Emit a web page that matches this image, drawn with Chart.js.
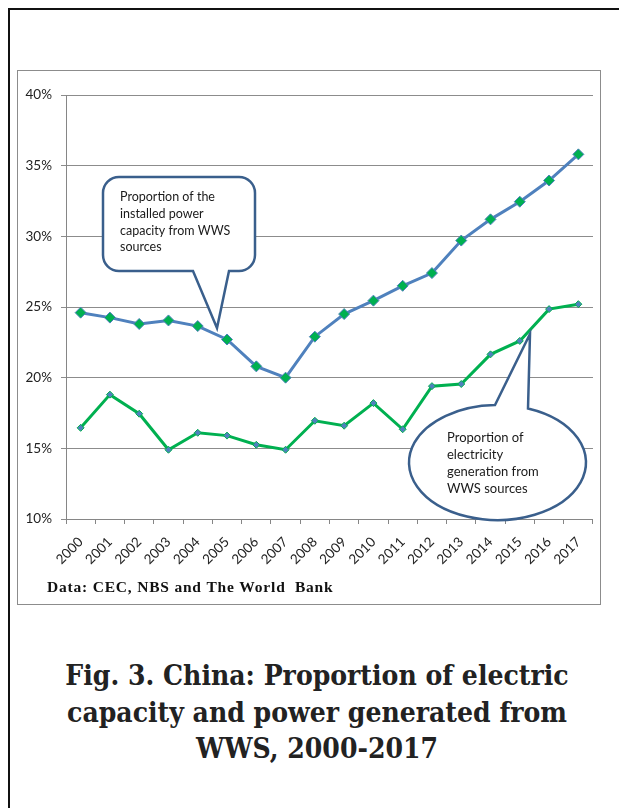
<!DOCTYPE html>
<html>
<head>
<meta charset="utf-8">
<script src="https://cdn.jsdelivr.net/npm/chart.js@4.4.1/dist/chart.umd.min.js"></script>
<style>
  html, body { margin: 0; padding: 0; background: #fff; }
  body { width: 619px; height: 808px; position: relative; overflow: hidden; }
  #frame { position: absolute; left: 8px; top: 8px; right: -10px; bottom: -10px; border-top: 2px solid #111; border-left: 2px solid #111; }
  #box { position: absolute; left: 17px; top: 70px; width: 582px; height: 533px; border: 1.5px solid #8c8c8c; }
  #wrap { position: absolute; left: 18px; top: 71px; width: 582px; height: 533px; }
  #title { position: absolute; left: 0; width: 634px; top: 658px; text-align: center; color: #222;
           font-family: "DejaVu Serif", serif; font-weight: bold; font-stretch: condensed; font-size: 28px; line-height: 36.5px; }
</style>
</head>
<body>
<div id="frame"></div>
<div id="box"></div>
<div id="wrap"><canvas id="chart"></canvas></div>
<div id="title">Fig. 3. China: Proportion of electric<br>capacity and power generated from<br>WWS, 2000-2017</div>
<script>
// Shares of WWS (water, wind, solar) in China's power system, in %
const years = ["2000", "2001", "2002", "2003", "2004", "2005", "2006", "2007", "2008",
               "2009", "2010", "2011", "2012", "2013", "2014", "2015", "2016", "2017"];
const capacityShare = [24.6, 24.25, 23.8, 24.05, 23.65, 22.7, 20.8, 20.0, 22.9,
                       24.5, 25.45, 26.5, 27.4, 29.7, 31.2, 32.45, 33.95, 35.8];
const generationShare = [16.45, 18.8, 17.45, 14.9, 16.1, 15.9, 15.25, 14.9, 16.95,
                         16.6, 18.2, 16.35, 19.4, 19.55, 21.65, 22.6, 24.85, 25.2];
const yMin = 10, yMax = 40, yStep = 5;

const capacityNote = ["Proportion of the", "installed power", "capacity from WWS", "sources"];
const generationNote = ["Proportion of", "electricity", "generation from", "WWS sources"];
const sourceNote = "Data: CEC, NBS and The World  Bank";

const $ = (id) => document.getElementById(id);
const calloutBlue = "#3A5F8C";

function roundRectCallout(ctx, x, y, w, h, r, baseL, baseR, tip) {
  ctx.beginPath();
  ctx.moveTo(x + r, y);
  ctx.lineTo(x + w - r, y);
  ctx.arcTo(x + w, y, x + w, y + r, r);
  ctx.lineTo(x + w, y + h - r);
  ctx.arcTo(x + w, y + h, x + w - r, y + h, r);
  ctx.lineTo(baseR, y + h);
  ctx.lineTo(tip.x, tip.y);
  ctx.lineTo(baseL, y + h);
  ctx.lineTo(x + r, y + h);
  ctx.arcTo(x, y + h, x, y + h - r, r);
  ctx.lineTo(x, y + r);
  ctx.arcTo(x, y, x + r, y, r);
  ctx.closePath();
}

function ellipseCallout(ctx, cx, cy, rx, ry, baseL, baseR, tip) {
  const aR = -Math.acos((baseR - cx) / rx);
  const aL = 2 * Math.PI - Math.acos((baseL - cx) / rx);
  ctx.beginPath();
  ctx.ellipse(cx, cy, rx, ry, 0, aR, aL, false);
  ctx.lineTo(tip.x, tip.y);
  ctx.closePath();
}

const notesPlugin = {
  id: "notes",
  afterDatasetsDraw(chart) {
    const ctx = chart.ctx;
    ctx.save();
    ctx.lineWidth = 2.5;
    ctx.strokeStyle = calloutBlue;
    ctx.fillStyle = "#fff";
    ctx.lineJoin = "miter";

    roundRectCallout(ctx, 85, 106, 152, 94, 16, 175, 211, { x: 199, y: 257 });
    ctx.fill(); ctx.stroke();

    ellipseCallout(ctx, 479.5, 391.5, 88.5, 57.5, 477, 510, { x: 512, y: 263 });
    ctx.fill(); ctx.stroke();

    ctx.fillStyle = "#1a1a1a";
    ctx.font = "12.5px Lato, sans-serif";
    ctx.textBaseline = "middle";
    ctx.textAlign = "left";
    capacityNote.forEach((t, i) => ctx.fillText(t, 102, 126 + i * 16.8));
    ctx.font = "13px Lato, sans-serif";
    generationNote.forEach((t, i) => ctx.fillText(t, 429, 367 + i * 16.8));

    ctx.font = "bold 15.5px 'Liberation Serif', serif";
    ctx.letterSpacing = "0.8px";
    ctx.textBaseline = "alphabetic";
    ctx.fillStyle = "#111";
    ctx.fillText(sourceNote, 29, 521);
    ctx.restore();
  }
};

const tickFont = { family: "Lato, sans-serif", size: 13.5 };

new Chart($("chart"), {
  type: "line",
  data: {
    labels: years,
    datasets: [
      {
        label: "Installed capacity from WWS",
        data: capacityShare,
        borderColor: "#4F81BD",
        borderWidth: 3,
        pointStyle: "rectRot",
        pointRadius: 5.5,
        pointBorderWidth: 1,
        pointBackgroundColor: "#00B050",
        pointBorderColor: "#4F81BD",
        tension: 0
      },
      {
        label: "Generation from WWS",
        data: generationShare,
        borderColor: "#00B050",
        borderWidth: 3,
        pointStyle: "rectRot",
        pointRadius: 3.5,
        pointBorderWidth: 1,
        pointBackgroundColor: "#4F81BD",
        pointBorderColor: "#00B050",
        tension: 0
      }
    ]
  },
  options: {
    responsive: true,
    maintainAspectRatio: false,
    animation: false,
    layout: { padding: { left: 0, top: 24, right: 7, bottom: 35 } },
    plugins: { legend: { display: false }, tooltip: { enabled: false } },
    scales: {
      x: {
        offset: true,
        grid: { offset: true, drawOnChartArea: false, tickLength: 5, color: "#868686" },
        border: { color: "#868686", width: 1 },
        ticks: { font: tickFont, color: "#222", minRotation: 45, maxRotation: 45, autoSkip: false, padding: 10 },
        afterFit: (s) => { s.height = 50; }
      },
      y: {
        min: yMin,
        max: yMax,
        grid: { color: "#8c8c8c", tickLength: 5 },
        border: { color: "#868686", width: 1 },
        ticks: { stepSize: yStep, font: tickFont, color: "#222", padding: 9, callback: (v) => v + "%" },
        afterFit: (s) => { s.width = 48; }
      }
    }
  },
  plugins: [notesPlugin]
});
</script>
</body>
</html>
